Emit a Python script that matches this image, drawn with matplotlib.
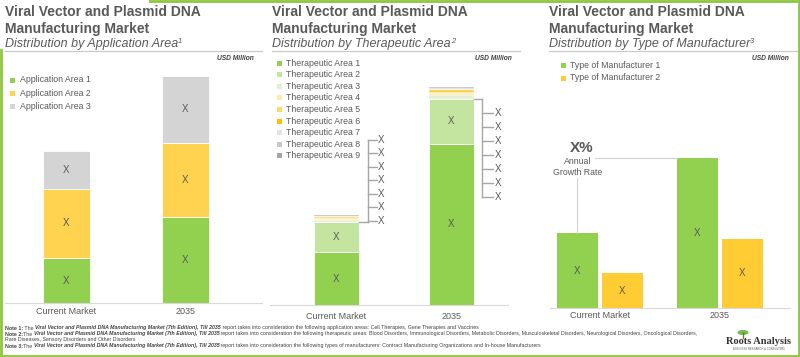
import matplotlib
matplotlib.use("Agg")
import matplotlib.pyplot as plt
import numpy as np
from matplotlib.patches import Rectangle, Ellipse
from matplotlib.lines import Line2D

plt.rcParams['font.family'] = ['Liberation Sans', 'DejaVu Sans']

W, H = 800, 357

# ---- data (in pixel-ish units) ----
years = ['Current Market', '2035']

app_labels = ['Application Area 1', 'Application Area 2', 'Application Area 3']
app_colors = ['#92D050', '#FFD34F', '#D4D4D4']
app_area1 = [45, 86]
app_area2 = [69, 74]
app_area3 = [38, 67]

ther_labels = ['Therapeutic Area %d' % i for i in range(1, 10)]
ther_colors = ['#92D050', '#C4E59F', '#E2F0D1', '#FFEBB0', '#FFD966', '#FFC000',
               '#E3E3E3', '#C8C8C8', '#A6A6A6']
ther_current = [53, 30, 1.5, 1, 1, 1, 1, 0.8, 0.7]
ther_2035 = [161, 45, 4, 1.5, 1.5, 1.5, 1.5, 1, 1]

manu_labels = ['Type of Manufacturer 1', 'Type of Manufacturer 2']
manu_colors = ['#92D050', '#FFCC33']
manu_type1 = [75, 150]
manu_type2 = [35, 69]

growth_text = 'X%'
value_text = 'X'

TXT = '#595959'
fig = plt.figure(figsize=(8, 3.57), dpi=100)
renderer = fig.canvas.get_renderer()


def add_ax(left, right, top, bottom):
    ax = fig.add_axes([left / W, 1 - bottom / H, (right - left) / W, (bottom - top) / H])
    for s in ['top', 'right', 'left']:
        ax.spines[s].set_visible(False)
    ax.spines['bottom'].set_color('#D9D9D9')
    ax.set_yticks([])
    ax.tick_params(axis='x', length=0, labelsize=6.5, labelcolor=TXT)
    ax.patch.set_alpha(0)
    return ax


def seq_text(x, y, parts, **common):
    # place text pieces one after the other on a baseline (pixel coords)
    for s, kw in parts:
        opts = dict(common)
        opts.update(kw)
        dy = opts.pop('dy', 0)
        t = fig.text(x / W, 1 - (y + dy) / H, s, va='baseline', ha='left', **opts)
        x += t.get_window_extent(renderer=renderer).width
    return x


def header(x, right, title2, sup):
    fig.text(x / W, 1 - 16 / H, 'Viral Vector and Plasmid DNA', fontsize=10,
             fontweight='bold', color=TXT, va='baseline')
    fig.text(x / W, 1 - 32.5 / H, 'Manufacturing Market', fontsize=10,
             fontweight='bold', color=TXT, va='baseline')
    seq_text(x, 47.5, [(title2, dict(fontsize=9)), (sup, dict(fontsize=5.5, dy=-4.5))],
             style='italic', color=TXT)
    fig.add_artist(Line2D([x / W, right / W], [1 - 51 / H] * 2, color='#C8C8C8', lw=0.8))
    fig.text((right - 8) / W, 1 - 58 / H, 'USD Million', fontsize=4.8, style='italic',
             fontweight='bold', color='#404040', ha='right', va='center')


def legend(x, y0, step, labels, colors):
    for i, (lab, col) in enumerate(zip(labels, colors)):
        y = y0 + i * step
        fig.add_artist(Rectangle(((x - 2.5) / W, 1 - (y + 2.5) / H), 5 / W, 5 / H,
                                 facecolor=col, edgecolor='none'))
        fig.text((x + 7) / W, 1 - y / H, lab, fontsize=6.3, color=TXT, va='center')


# ---- panel 1: application area ----
header(5, 262, 'Distribution by Application Area', '1')
ax1 = add_ax(5, 262, 65, 303)
x = np.arange(len(years))
bottom = np.zeros(len(years))
for vals, col in zip([app_area1, app_area2, app_area3], app_colors):
    ax1.bar(x, vals, 0.395, bottom=bottom, color=col, edgecolor='white', linewidth=0.6)
    for xi, b, v in zip(x, bottom, vals):
        ax1.text(xi, b + v / 2, value_text, ha='center', va='center', fontsize=7, color=TXT)
    bottom = bottom + np.array(vals)
ax1.set_xlim(-0.517, 1.643)
ax1.set_ylim(0, 238)
ax1.set_xticks(x)
ax1.set_xticklabels(years)
ax1.tick_params(axis='x', pad=3.2)
legend(12.5, 80, 13.3, app_labels, app_colors)

# ---- panel 2: therapeutic area ----
header(272, 520, 'Distribution by Therapeutic Area', '2')
ax2 = add_ax(270, 508, 65, 305)
bw2 = 0.391
for xi, vals in zip(x, [ther_current, ther_2035]):
    b = 0
    for v, col in zip(vals, ther_colors):
        ax2.bar(xi, v, bw2, bottom=b, color=col, edgecolor='white', linewidth=0.3 if v < 5 else 0.6)
        b += v
for xi, vals in zip(x, [ther_current, ther_2035]):
    ax2.text(xi, vals[0] / 2, value_text, ha='center', va='center', fontsize=7, color=TXT)
    ax2.text(xi, vals[0] + vals[1] / 2, value_text, ha='center', va='center', fontsize=7, color=TXT)
ax2.set_xlim(-0.578, 1.491)
ax2.set_ylim(0, 240)
ax2.set_xticks(x)
ax2.set_xticklabels(years)
ax2.tick_params(axis='x', pad=4.7)

# brackets listing the small segments
n_small = len(ther_current) - 2
lc = '#A6A6A6'
# current market: bracket goes up from the bar top
start = ther_current[0] + ther_current[1]
ticks = start + 1 + np.arange(n_small) * 13.5
vx = 0 + 0.274
ax2.plot([bw2 / 2, vx], [start, start], color=lc, lw=1, clip_on=False)
ax2.plot([vx, vx], [start, ticks[-1]], color=lc, lw=1, clip_on=False)
for t in ticks:
    ax2.plot([vx, vx + 0.078], [t, t], color=lc, lw=1, clip_on=False)
    ax2.text(vx + 0.117, t, value_text, ha='center', va='center', fontsize=7, color=TXT, clip_on=False)
# 2035: bracket goes down from the bar top
start = ther_2035[0] + ther_2035[1]
ticks = start - 14 - np.arange(n_small) * 14
vx = 1 + 0.261
ax2.plot([1 + bw2 / 2, vx], [start, start], color=lc, lw=1, clip_on=False)
ax2.plot([vx, vx], [start, ticks[-1]], color=lc, lw=1, clip_on=False)
for t in ticks:
    ax2.plot([vx, vx + 0.1], [t, t], color=lc, lw=1, clip_on=False)
    ax2.text(vx + 0.143, t, value_text, ha='center', va='center', fontsize=7, color=TXT, clip_on=False)
legend(279, 63, 11.6, ther_labels, ther_colors)

# ---- panel 3: type of manufacturer ----
header(549, 797, 'Distribution by Type of Manufacturer', '3')
ax3 = add_ax(550, 790, 65, 308)
bw3 = 0.342
off = 0.1875
ax3.bar(x - off, manu_type1, bw3, color=manu_colors[0])
ax3.bar(x + off, manu_type2, bw3, color=manu_colors[1])
for xi, v1, v2 in zip(x, manu_type1, manu_type2):
    ax3.text(xi - off, v1 / 2, value_text, ha='center', va='center', fontsize=7, color=TXT)
    ax3.text(xi + off, v2 / 2, value_text, ha='center', va='center', fontsize=7, color=TXT)
ax3.set_xlim(-0.417, 1.5875)
ax3.set_ylim(0, 243)
ax3.set_xticks(x)
ax3.set_xticklabels(years)
ax3.tick_params(axis='x', pad=2.5)
# growth rate annotation
gl = '#D0D0D0'
ax3.plot([-off, -off], [manu_type1[0], 130], color=gl, lw=0.8)
ax3.plot([-0.04, 1 - off - bw3 / 2], [manu_type1[1], manu_type1[1]], color=gl, lw=0.8)
ax3.text(-0.15, 160, growth_text, ha='center', va='center', fontsize=11,
         fontweight='bold', color=TXT)
ax3.text(-0.19, 141, 'Annual\nGrowth Rate', ha='center', va='center', fontsize=6.3,
         color=TXT, linespacing=1.15)
legend(563, 65, 13, manu_labels, manu_colors)

# ---- notes ----
ttl = 'Viral Vector and Plasmid DNA Manufacturing Market (7th Edition), Till 2035'
note_kw = dict(fontsize=3.8, color='#404040')
B = dict(fontweight='bold')
BI = dict(fontweight='bold', style='italic')
seq_text(5, 329.5, [('Note 1:', B), (' The ', {}), (ttl, BI),
                    (' report takes into consideration the following application areas: '
                     'Cell Therapies, Gene Therapies and Vaccines', {})], **note_kw)
seq_text(5, 335.5, [('Note 2:', B), ('The ', {}), (ttl, BI),
                    (' report takes into consideration the following therapeutic areas: Blood '
                     'Disorders, Immunological Disorders, Metabolic Disorders, Musculoskeletal '
                     'Disorders, Neurological Disorders, Oncological Disorders,', {})], **note_kw)
seq_text(5, 341.5, [('Rare Diseases, Sensory Disorders and Other Disorders', {})], **note_kw)
seq_text(5, 347.5, [('Note 3:', B), ('The ', {}), (ttl, BI),
                    (' report takes into consideration the following types of manufacturers: '
                     'Contract Manufacturing Organizations and In-house Manufacturers', {})], **note_kw)

# ---- logo ----
fig.add_artist(Line2D([743 / W] * 2, [1 - 333 / H, 1 - 338 / H], color='#8B6B3D', lw=1))
fig.add_artist(Ellipse((743 / W, 1 - 332.5 / H), 11 / W, 5 / H, facecolor='#6DBE45', edgecolor='none'))
fig.text(759 / W, 1 - 341.5 / H, 'Roots Analysis', family=['Liberation Serif', 'DejaVu Serif'],
         fontsize=7.5, fontweight='bold', color='#333333', ha='center', va='center')
fig.text(759 / W, 1 - 349 / H, 'BUSINESS RESEARCH & CONSULTING', fontsize=2, color='#555555',
         ha='center', va='center')

# ---- green frame ----
fc = '#8DC63F'
fig.add_artist(Line2D([150 / W, 1], [1 - 1 / H] * 2, color=fc, lw=2))
fig.add_artist(Line2D([1 - 1 / W] * 2, [0, 1], color=fc, lw=2))
fig.add_artist(Line2D([0, 1], [1 / H] * 2, color=fc, lw=2))
fig.add_artist(Line2D([1 / W] * 2, [0, 1 - 50 / H], color=fc, lw=2))

fig.savefig('out.png', dpi=100)
